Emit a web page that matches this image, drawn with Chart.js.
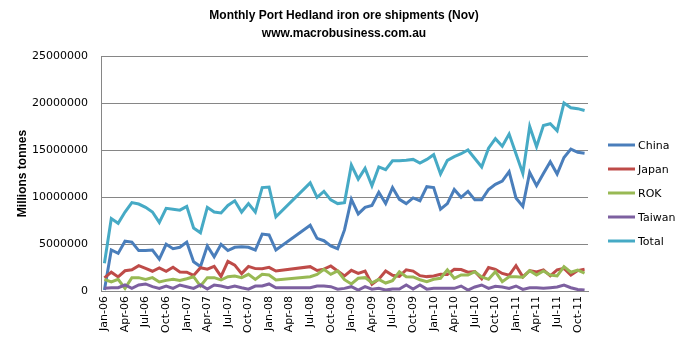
<!DOCTYPE html>
<html lang="en">
<head>
<meta charset="UTF-8">
<title>Monthly Port Hedland iron ore shipments</title>
<script src="https://cdn.jsdelivr.net/npm/chart.js"></script>
<style>
    html, body { margin: 0; padding: 0; background: #fff; }
</style>
</head>
<body>
<canvas id="lineChart" width="688" height="345"></canvas>
<script>
// months Jan-06 .. Nov-11, Mar-08..Jun-08 missing in the source data
const monthNames = ['Jan', 'Feb', 'Mar', 'Apr', 'May', 'Jun', 'Jul', 'Aug', 'Sep', 'Oct', 'Nov', 'Dec'];
const years = ['06', '07', '08', '09', '10', '11'];
const lastMonthCount = 11;

const china = [
    100000, 4360000, 4000000, 5300000, 5200000, 4300000, 4300000, 4360000, 3400000, 4970000, 4500000, 4650000,
    5200000, 3100000, 2600000, 4800000, 3650000, 4970000, 4300000, 4650000, 4700000, 4650000, 4360000, 6060000,
    5960000, 4360000, null, null, null, null, 7000000, 5600000, 5350000, 4800000, 4500000, 6500000,
    9750000, 8200000, 8900000, 9100000, 10500000, 9300000, 11000000, 9750000, 9300000, 9900000, 9600000, 11100000,
    11000000, 8700000, 9300000, 10800000, 9970000, 10600000, 9700000, 9700000, 10800000, 11350000, 11700000, 12700000,
    9900000, 9000000, 12600000, 11200000, 12500000, 13750000, 12450000, 14200000, 15100000, 14750000, 14650000
];
const japan = [
    1400000, 2000000, 1500000, 2150000, 2250000, 2700000, 2400000, 2100000, 2450000, 2100000, 2520000, 2020000,
    2000000, 1660000, 2480000, 2330000, 2620000, 1550000, 3150000, 2750000, 1850000, 2620000, 2380000, 2370000,
    2520000, 2130000, null, null, null, null, 2590000, 2180000, 2330000, 2660000, 2130000, 1600000,
    2200000, 1880000, 2120000, 720000, 1260000, 2120000, 1670000, 1550000, 2260000, 2120000, 1630000, 1530000,
    1590000, 1780000, 1760000, 2300000, 2280000, 2000000, 2080000, 1300000, 2490000, 2300000, 1870000, 1670000,
    2700000, 1500000, 2170000, 2030000, 2250000, 1620000, 2250000, 2400000, 1700000, 2170000, 2320000
];
const rok = [
    1240000, 960000, 1240000, 280000, 1420000, 1420000, 1240000, 1420000, 960000, 1130000, 1240000, 1130000,
    1310000, 1520000, 530000, 1420000, 1420000, 1170000, 1520000, 1600000, 1420000, 1770000, 1240000, 1770000,
    1700000, 1170000, null, null, null, null, 1520000, 1770000, 2300000, 1770000, 2130000, 1200000,
    750000, 1350000, 1420000, 880000, 1240000, 850000, 1100000, 2050000, 1520000, 1500000, 1200000, 1000000,
    1250000, 1350000, 2250000, 1350000, 1700000, 1700000, 2050000, 1500000, 1240000, 2050000, 1000000, 1520000,
    1520000, 1460000, 2160000, 1700000, 2130000, 1700000, 1600000, 2600000, 2000000, 2230000, 1900000
];
const taiwan = [
    300000, 350000, 350000, 640000, 280000, 640000, 750000, 460000, 280000, 530000, 280000, 640000,
    460000, 280000, 640000, 200000, 640000, 530000, 350000, 530000, 350000, 200000, 530000, 530000,
    750000, 350000, null, null, null, null, 350000, 530000, 530000, 460000, 200000, 280000,
    460000, 100000, 460000, 200000, 280000, 100000, 200000, 200000, 640000, 200000, 640000, 200000,
    280000, 280000, 280000, 280000, 530000, 100000, 430000, 640000, 280000, 500000, 430000, 280000,
    530000, 170000, 350000, 350000, 280000, 350000, 430000, 640000, 350000, 170000, 100000
];
const total = [
    2950000, 7700000, 7200000, 8400000, 9400000, 9250000, 8900000, 8400000, 7300000, 8800000, 8700000, 8600000,
    9000000, 6700000, 6200000, 8900000, 8400000, 8300000, 9100000, 9600000, 8400000, 9300000, 8400000, 11000000,
    11060000, 7900000, null, null, null, null, 11500000, 9970000, 10600000, 9700000, 9300000, 9400000,
    13400000, 11900000, 13050000, 11200000, 13200000, 12900000, 13850000, 13850000, 13900000, 14000000, 13600000, 14000000,
    14500000, 12450000, 13900000, 14300000, 14600000, 15000000, 14100000, 13200000, 15200000, 16200000, 15400000, 16700000,
    14600000, 12500000, 17500000, 15350000, 17600000, 17800000, 17050000, 20000000, 19500000, 19400000, 19200000
];

const seriesNames = ['China', 'Japan', 'ROK', 'Taiwan', 'Total'];
const seriesColors = ['#4A7EBB', '#BE4B48', '#98B954', '#7D60A0', '#46AAC5'];
const seriesData = [china, japan, rok, taiwan, total];
const titleLines = ['Monthly Port Hedland iron ore shipments (Nov)', 'www.macrobusiness.com.au'];

const labels = [];
years.forEach((y, yi) => {
    const n = yi === years.length - 1 ? lastMonthCount : 12;
    for (let m = 0; m < n; m++) labels.push(monthNames[m] + '-' + y);
});

const font = 'DejaVu Sans';

// title and legend drawn by hand so they sit where Excel put them
const sideLegend = {
    id: 'sideLegend',
    afterDraw(chart) {
        const ctx = chart.ctx;
        ctx.save();
        ctx.fillStyle = '#000';
        ctx.textBaseline = 'middle';

        ctx.font = 'bold 12px "Liberation Sans"';
        ctx.textAlign = 'center';
        titleLines.forEach((t, i) => ctx.fillText(t, chart.width / 2, 16 + i * 18));

        ctx.font = '11px "' + font + '"';
        ctx.textAlign = 'left';
        seriesNames.forEach((name, i) => {
            const y = 145 + i * 24;
            ctx.strokeStyle = seriesColors[i];
            ctx.lineWidth = 3;
            ctx.beginPath();
            ctx.moveTo(608, y);
            ctx.lineTo(635, y);
            ctx.stroke();
            ctx.fillText(name, 638, y + 1);
        });
        ctx.restore();
    }
};

new Chart(document.getElementById('lineChart'), {
    type: 'line',
    data: {
        labels: labels,
        datasets: seriesNames.map((name, i) => ({
            label: name,
            data: seriesData[i],
            borderColor: seriesColors[i],
            backgroundColor: seriesColors[i],
            borderWidth: 3,
            pointRadius: 0,
            tension: 0,
            spanGaps: true,
            order: seriesNames.length - i
        }))
    },
    options: {
        responsive: false,
        animation: false,
        layout: { padding: { left: 0, right: 100, top: 56, bottom: 0 } },
        plugins: {
            legend: { display: false },
            tooltip: { enabled: false },
            title: { display: false }
        },
        scales: {
            x: {
                offset: true,
                grid: { display: false, drawTicks: false },
                border: { display: true, color: '#868686' },
                ticks: {
                    autoSkip: false,
                    maxRotation: 90,
                    minRotation: 90,
                    padding: 5,
                    color: '#000',
                    font: { family: font, size: 11 },
                    callback: (v, i) => (i % 3 === 0 ? labels[i] : '')
                },
                afterFit: s => { s.height = 54; }
            },
            y: {
                min: 0,
                max: 25000000,
                grid: { color: '#868686', drawTicks: false },
                border: { display: true, color: '#868686' },
                ticks: {
                    stepSize: 5000000,
                    padding: 13,
                    color: '#000',
                    font: { family: font, size: 11 },
                    callback: v => String(v)
                },
                title: {
                    display: true,
                    text: 'Millions tonnes',
                    color: '#000',
                    font: { family: 'Liberation Sans', size: 12, weight: 'bold' },
                    padding: { top: 15, bottom: 0 }
                },
                afterFit: s => { s.width = 101; }
            }
        }
    },
    plugins: [sideLegend]
});
</script>
</body>
</html>
